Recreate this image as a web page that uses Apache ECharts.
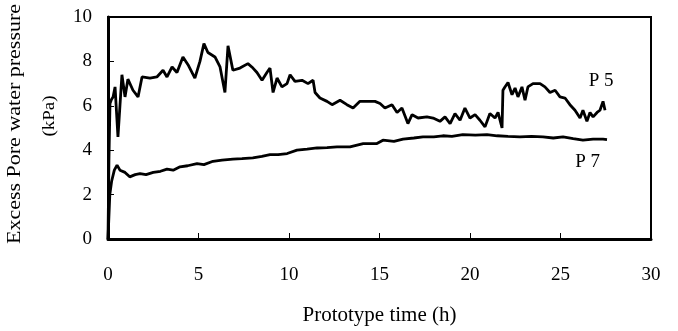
<!DOCTYPE html>
<html>
<head>
<meta charset="utf-8">
<script src="https://cdn.jsdelivr.net/npm/echarts@6/dist/echarts.min.js"></script>
<style>
html,body{margin:0;padding:0;background:#fff;}
#chart{width:678px;height:331px;}
</style>
</head>
<body>
<div id="chart"></div>
<script>
// P5 series: [time (h), excess pore water pressure (kPa)]
var p5Time = [0, 0.05, 0.11, 0.2, 0.28, 0.39, 0.55, 0.77, 0.94, 1.1, 1.38, 1.66, 1.88, 2.32, 2.7, 3.04, 3.26, 3.54, 3.81, 4.14, 4.42, 4.8, 5.08, 5.3, 5.52, 5.91, 6.19, 6.46, 6.63, 6.9, 7.29, 7.73, 8.01, 8.23, 8.51, 8.78, 8.95, 9.12, 9.34, 9.61, 9.89, 10.06, 10.33, 10.72, 11.05, 11.33, 11.44, 11.71, 12.1, 12.38, 12.82, 13.2, 13.54, 13.92, 14.31, 14.75, 15.03, 15.3, 15.69, 15.97, 16.24, 16.57, 16.8, 17.13, 17.62, 17.96, 18.34, 18.62, 18.9, 19.17, 19.45, 19.72, 20.0, 20.28, 20.55, 20.83, 21.1, 21.38, 21.55, 21.77, 21.82, 21.93, 22.1, 22.32, 22.49, 22.65, 22.87, 23.04, 23.2, 23.48, 23.87, 24.14, 24.42, 24.7, 24.97, 25.25, 25.52, 25.8, 26.08, 26.24, 26.46, 26.63, 26.8, 27.02, 27.18, 27.35, 27.46];
var p5Value = [0, 3.5, 6.1, 6.3, 6.4, 6.85, 4.6, 7.4, 6.4, 7.2, 6.7, 6.4, 7.3, 7.25, 7.3, 7.6, 7.3, 7.75, 7.5, 8.2, 7.85, 7.25, 8.0, 8.8, 8.4, 8.2, 7.75, 6.6, 8.7, 7.6, 7.7, 7.9, 7.7, 7.5, 7.15, 7.5, 7.7, 6.6, 7.25, 6.85, 7.0, 7.4, 7.1, 7.15, 7.0, 7.15, 6.6, 6.35, 6.2, 6.05, 6.25, 6.05, 5.9, 6.2, 6.2, 6.2, 6.1, 5.9, 6.05, 5.7, 5.9, 5.2, 5.6, 5.45, 5.5, 5.45, 5.3, 5.5, 5.2, 5.65, 5.35, 5.9, 5.45, 5.6, 5.35, 5.05, 5.65, 5.45, 5.7, 5.0, 6.7, 6.85, 7.05, 6.5, 6.8, 6.4, 6.85, 6.25, 6.85, 7.0, 7.0, 6.85, 6.6, 6.7, 6.4, 6.35, 6.05, 5.8, 5.45, 5.8, 5.3, 5.7, 5.5, 5.7, 5.8, 6.2, 5.8];

// P7 series
var p7Time = [0, 0.05, 0.1, 0.2, 0.35, 0.5, 0.66, 0.94, 1.2, 1.5, 1.77, 2.1, 2.5, 2.9, 3.26, 3.6, 3.98, 4.4, 4.92, 5.3, 5.8, 6.3, 6.9, 7.4, 8.0, 8.5, 8.95, 9.4, 9.9, 10.44, 11.0, 11.55, 12.1, 12.65, 13.37, 14.1, 14.86, 15.19, 15.8, 16.3, 16.9, 17.4, 18.0, 18.5, 19.0, 19.6, 20.3, 20.94, 21.5, 22.1, 22.76, 23.4, 24.03, 24.6, 25.14, 25.7, 26.24, 26.8, 27.35, 27.57];
var p7Value = [0, 1.0, 2.0, 2.6, 3.1, 3.33, 3.1, 3.0, 2.8, 2.9, 2.95, 2.9, 3.0, 3.05, 3.15, 3.1, 3.25, 3.3, 3.4, 3.35, 3.5, 3.55, 3.6, 3.62, 3.65, 3.72, 3.8, 3.8, 3.85, 4.0, 4.05, 4.1, 4.12, 4.15, 4.15, 4.3, 4.3, 4.45, 4.4, 4.5, 4.55, 4.6, 4.6, 4.65, 4.62, 4.7, 4.68, 4.7, 4.65, 4.62, 4.6, 4.62, 4.6, 4.55, 4.6, 4.52, 4.45, 4.5, 4.5, 4.48];

var xTicks = [0, 5, 10, 15, 20, 25, 30];
var yTicks = [0, 2, 4, 6, 8, 10];
var seriesNames = ['P 5', 'P 7'];
var labelPos = [[27.24, 7.12], [26.5, 3.47]];

function pairs(t, v) { return t.map(function (x, i) { return [x, v[i]]; }); }

var FONT = '"Liberation Serif", "Times New Roman", serif';
var chart = echarts.init(document.getElementById('chart'), null, {renderer: 'canvas'});

function labelPoint(name, pos) {
  return {
    symbol: 'circle', symbolSize: 0, silent: true,
    data: [{coord: pos, value: name}],
    label: {show: true, position: 'inside', formatter: name, color: '#000', fontFamily: FONT, fontSize: 19}
  };
}

chart.setOption({
  animation: false,
  backgroundColor: '#fff',
  grid: {left: 108, right: 27, top: 17, bottom: 92, show: true, borderColor: '#000', borderWidth: 2, backgroundColor: 'transparent'},
  xAxis: {
    type: 'value', min: xTicks[0], max: xTicks[xTicks.length - 1], interval: 5,
    axisLine: {lineStyle: {color: '#000', width: 3}},
    axisTick: {inside: true, length: 6, lineStyle: {color: '#000', width: 1}},
    axisLabel: {color: '#000', fontFamily: FONT, fontSize: 19, margin: 27},
    splitLine: {show: false},
    name: 'Prototype time (h)', nameLocation: 'middle', nameGap: 66,
    nameTextStyle: {color: '#000', fontFamily: FONT, fontSize: 21}
  },
  yAxis: {
    type: 'value', min: yTicks[0], max: yTicks[yTicks.length - 1], interval: 2,
    axisLine: {show: true, lineStyle: {color: '#000', width: 3}},
    axisTick: {show: true, inside: true, length: 6, lineStyle: {color: '#000', width: 1}},
    axisLabel: {color: '#000', fontFamily: FONT, fontSize: 19, margin: 16},
    splitLine: {show: false}
  },
  graphic: [
    {type: 'text', x: 15, y: 124, rotation: Math.PI / 2, scaleY: 0.85,
     style: {text: 'Excess Pore water pressure', font: '22px ' + FONT, fill: '#000', textAlign: 'center', textVerticalAlign: 'middle'}},
    {type: 'text', x: 50, y: 116, rotation: Math.PI / 2, scaleY: 0.85,
     style: {text: '(kPa)', font: '19px ' + FONT, fill: '#000', textAlign: 'center', textVerticalAlign: 'middle'}}
  ],
  series: [
    {name: seriesNames[0], type: 'line', data: pairs(p5Time, p5Value), showSymbol: false, symbol: 'none',
     lineStyle: {color: '#000', width: 2.8}, markPoint: labelPoint(seriesNames[0], labelPos[0])},
    {name: seriesNames[1], type: 'line', data: pairs(p7Time, p7Value), showSymbol: false, symbol: 'none',
     lineStyle: {color: '#000', width: 2.8}, markPoint: labelPoint(seriesNames[1], labelPos[1])}
  ]
});
</script>
</body>
</html>
